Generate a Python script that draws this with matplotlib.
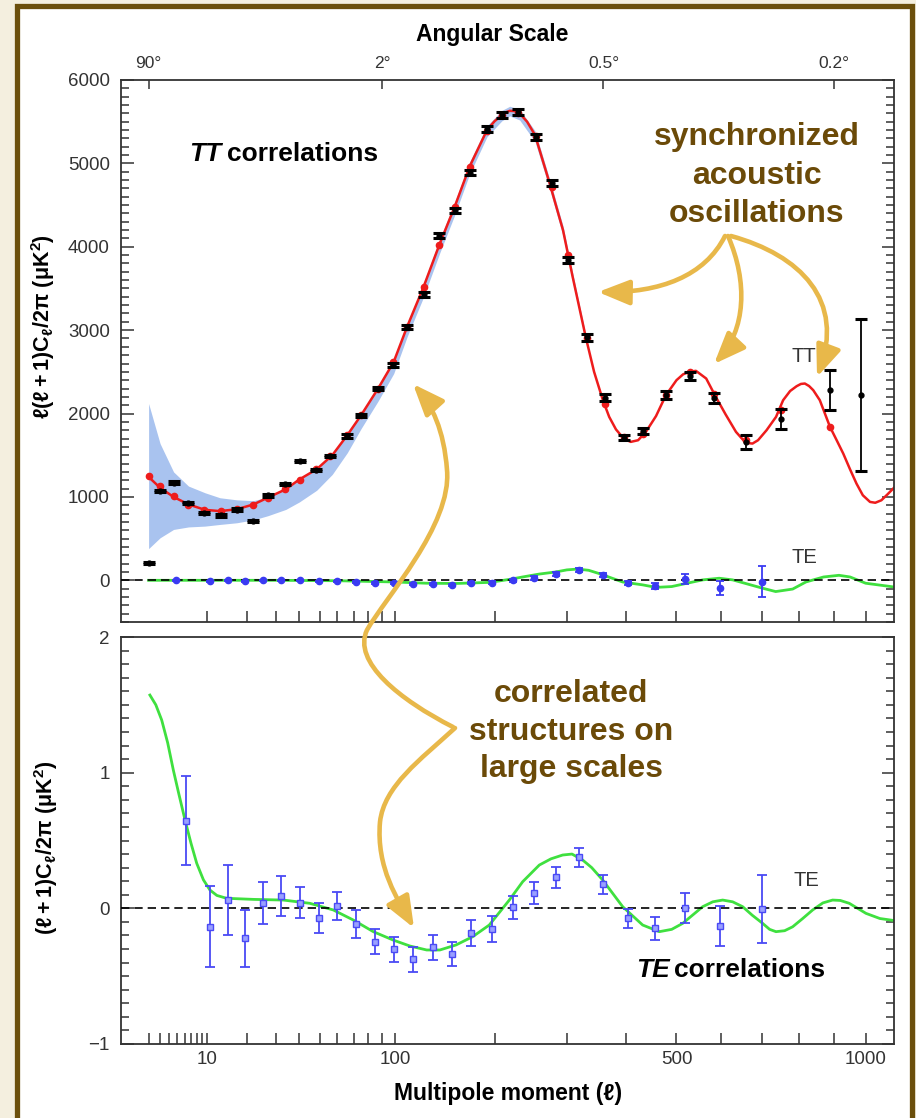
import numpy as np
import matplotlib
matplotlib.use('Agg')
import matplotlib.pyplot as plt
from matplotlib.patches import Rectangle, FancyArrowPatch
from matplotlib.path import Path
from matplotlib.ticker import FixedLocator, MultipleLocator, NullLocator

plt.rcParams['font.family'] = ['Liberation Sans', 'DejaVu Sans']
plt.rcParams['mathtext.fontset'] = 'custom'
plt.rcParams['mathtext.rm'] = 'Liberation Sans:bold'
plt.rcParams['mathtext.it'] = 'Liberation Sans:bold:italic'
plt.rcParams['mathtext.bf'] = 'Liberation Sans:bold'
plt.rcParams['mathtext.default'] = 'rm'

# ---- TT spectrum (upper panel) ----
tt_l = [2, 3, 4.5, 6.6, 9.5, 12.7, 17, 22, 27, 34, 40, 48.5, 57, 66, 75, 87, 99, 110, 124,
        140, 155, 171, 191, 200, 209, 214, 219, 225, 232, 242, 253, 274, 294, 309, 330, 344,
        359, 370, 382, 396, 409, 423, 438, 458, 478, 500, 514, 527, 542, 565, 587, 610, 635,
        655, 666, 676, 690, 712, 737, 756, 775, 793, 805, 816, 828, 840, 859, 873, 889, 909,
        929, 950, 970, 990, 1013, 1030, 1050, 1070, 1092]
tt_model = [1240, 1110, 1000, 910, 845, 830, 852, 910, 992, 1092, 1210, 1332, 1500, 1740,
            1980, 2300, 2620, 3040, 3500, 4040, 4480, 4960, 5400, 5505, 5580, 5612, 5630,
            5628, 5600, 5500, 5340, 4760, 4200, 3640, 2920, 2500, 2160, 1960, 1810, 1700,
            1660, 1680, 1780, 1970, 2220, 2400, 2470, 2500, 2512, 2420, 2200, 1990, 1780,
            1670, 1645, 1640, 1680, 1800, 1960, 2160, 2270, 2328, 2355, 2360, 2330, 2280,
            2160, 2010, 1840, 1680, 1520, 1330, 1160, 1020, 940, 930, 960, 1030, 1110]

band_l = [2, 3, 4.5, 6.6, 9.5, 12.7, 17, 22, 27, 34, 40, 48.5, 57, 66, 75, 87, 99, 110,
          124, 140, 155, 171, 191, 209, 219, 232, 253, 274, 294, 309, 330]
band_hi = [2120, 1640, 1300, 1130, 1050, 990, 965, 955, 1000, 1105, 1225, 1345, 1515, 1755,
           2000, 2325, 2650, 3075, 3545, 4095, 4535, 5015, 5450, 5635, 5685, 5650, 5390,
           4810, 4250, 3690, 2950]
band_lo = [380, 510, 610, 640, 650, 670, 690, 725, 775, 850, 940, 1080, 1270, 1530, 1820,
           2150, 2480, 2920, 3380, 3930, 4380, 4870, 5320, 5510, 5570, 5520, 5260, 4690,
           4130, 3580, 2870]

tt_data_l = [2, 3, 4.5, 6.6, 9.3, 12.9, 17, 22, 27, 33.5, 40.5, 48, 56, 65.6, 75, 87, 98.6,
             110, 125, 139, 155, 171, 190.6, 209, 230, 254, 277, 301, 332, 363, 397, 432,
             478, 529, 582, 659, 750, 889, 984]
tt_data = [208, 1072, 1172, 928, 808, 780, 848, 712, 1020, 1152, 1428, 1320, 1492, 1732,
           1980, 2300, 2580, 3040, 3432, 4132, 4440, 4888, 5408, 5580, 5620, 5312, 4768,
           3840, 2912, 2192, 1712, 1792, 2220, 2452, 2192, 1660, 1940, 2280, 2220]
tt_err = [15, 15, 15, 15, 15, 15, 15, 15, 15, 15, 15, 15, 15, 20, 20, 20, 25, 25, 30, 30,
          30, 30, 35, 35, 35, 35, 35, 35, 40, 40, 30, 35, 45, 50, 60, 85, 120, 240, 910]

tt_bin_l = [2, 3, 4.5, 6.6, 9.3, 12.9, 17, 22, 27, 33.5, 40.5, 48, 56, 65.6, 75, 87, 98.6,
            110, 125, 139, 155, 171, 190.6, 209, 230, 254, 277, 301, 332, 363, 397, 432,
            478, 529, 582, 659, 750, 889]
tt_bin_model = [1248, 1130, 1008, 905, 840, 828, 852, 905, 990, 1090, 1205, 1330, 1490,
                1740, 1980, 2300, 2620, 3040, 3520, 4020, 4480, 4960, 5390, 5580, 5605,
                5330, 4720, 3900, 2900, 2120, 1720, 1760, 2220, 2500, 2230, 1680, 2040, 1840]

# ---- TE in the upper panel (l(l+1)C/2pi) ----
te_top_model_l = [2, 10, 30, 60, 100, 127, 156, 194, 218, 236, 259, 283, 300, 317, 335, 353,
                  394, 432, 458, 490, 527, 557, 595, 627, 660, 702, 736, 782, 819, 870, 916,
                  950, 999, 1092]
te_top_model = [0, 0, 0, -5, -20, -35, -38, -25, 10, 40, 75, 100, 125, 135, 120, 80, -20,
                -55, -85, -75, -30, 5, 25, 5, -40, -95, -135, -105, -20, 40, 60, 40, -35, -80]
te_top_l = [4.8, 10.5, 14.6, 19.4, 25.1, 32, 40.3, 49.7, 59.9, 71.6, 84.7, 99.2, 114.8,
            133.1, 152.2, 172.6, 196.9, 223.6, 251.9, 283.3, 318.6, 358.6, 403.4, 455.8,
            518.1, 597.5, 700.1]
te_top = [0, -12, 0, -12, 0, 0, 0, -12, -12, -20, -32, -32, -48, -40, -60, -32, -32, 0, 28,
          72, 120, 60, -32, -72, 15, -95, -15]
te_top_err = [5, 5, 5, 5, 5, 5, 5, 6, 6, 8, 8, 10, 10, 12, 12, 15, 18, 18, 20, 22, 22, 25,
              25, 35, 60, 85, 188]

# ---- TE (lower panel, (l+1)C/2pi) ----
te_model_l = [2.1, 2.6, 3.16, 3.8, 4.47, 5.2, 6.07, 7, 7.97, 9.2, 10.5, 12, 14.3, 22, 33, 45,
              57.6, 69.8, 83.5, 98.6, 112.5, 127.4, 140, 156.4, 174.5, 193.7, 218.5, 236,
              259, 276, 293.5, 308, 325.1, 340, 358.6, 394.2, 431.7, 464.6, 490, 513.1, 557,
              580, 603.1, 627, 651.4, 675, 701.9, 720, 736.8, 760, 782, 810, 838.3, 868,
              896.9, 920, 947.5, 1000, 1045, 1092]
te_model = [1.572, 1.50, 1.388, 1.22, 1.019, 0.84, 0.651, 0.48, 0.332, 0.21, 0.135, 0.095,
            0.074, 0.066, 0.061, 0.037, -0.012, -0.086, -0.172, -0.234, -0.278, -0.307,
            -0.307, -0.27, -0.209, -0.123, 0.061, 0.196, 0.319, 0.365, 0.393, 0.40, 0.356,
            0.30, 0.209, 0.012, -0.123, -0.172, -0.155, -0.111, 0.012, 0.048, 0.061, 0.048,
            0.012, -0.05, -0.111, -0.155, -0.172, -0.165, -0.136, -0.075, -0.012, 0.04,
            0.061, 0.058, 0.037, -0.037, -0.075, -0.09]
te_l = [6.2, 10.5, 14.6, 19.4, 25.1, 32, 40.3, 49.7, 59.9, 71.6, 84.7, 99.2, 114.8, 133.1,
        152.2, 172.6, 196.9, 223.6, 251.9, 283.3, 318.6, 358.6, 403.4, 455.8, 518.1, 597.5,
        700.1]
te_val = [0.646, -0.136, 0.061, -0.221, 0.037, 0.091, 0.041, -0.074, 0.017, -0.116, -0.246,
          -0.302, -0.376, -0.288, -0.337, -0.180, -0.155, 0.007, 0.115, 0.228, 0.376, 0.179,
          -0.074, -0.147, 0.0, -0.130, -0.007]
te_err = [0.33, 0.30, 0.255, 0.21, 0.155, 0.145, 0.115, 0.11, 0.10, 0.105, 0.09, 0.09, 0.09,
          0.09, 0.09, 0.095, 0.095, 0.085, 0.08, 0.08, 0.07, 0.07, 0.07, 0.085, 0.11, 0.145,
          0.25]

# ---- ticks ----
x_major = [10, 20, 30, 40, 50, 60, 70, 80, 90, 100, 200, 300, 400, 500, 600, 700, 800, 900, 1000]
x_labels = ['10', '', '', '', '', '', '', '', '', '100', '', '', '', '500', '', '', '', '', '1000']
x_minor = [2, 3, 4, 5, 6, 7, 8, 9]
angle_l = [2, 90, 360, 900]
angle_labels = ['90°', '2°', '0.5°', '0.2°']

W, H = 916, 1118
gold = '#e8b84a'
brown = '#6b4a08'
red = '#ee1c1c'
green = '#3fe03f'
blue = '#3a3af2'


def fx(x):
    return x / W


def fy(y):
    return 1 - y / H


def fwd(x):
    return np.sign(x) * np.abs(x) ** 0.4


def inv(x):
    return np.sign(x) * np.abs(x) ** 2.5


fig = plt.figure(figsize=(W / 100, H / 100), dpi=100)
fig.patch.set_facecolor('#f4efdf')
fig.add_artist(Rectangle((fx(16.5), fy(1140)), fx(912) - fx(16.5), fy(5.5) - fy(1140),
                         transform=fig.transFigure, facecolor='white',
                         edgecolor='#6b4f0c', lw=3.8, zorder=-10))

rect1 = [fx(121), fy(622), fx(894) - fx(121), fy(80) - fy(622)]
rect2 = [fx(121), fy(1044), fx(894) - fx(121), fy(637) - fy(1044)]
ax1 = fig.add_axes(rect1)
ax2 = fig.add_axes(rect2)

for ax in (ax1, ax2):
    ax.set_facecolor('none')
    ax.set_xscale('function', functions=(fwd, inv))
    ax.set_xlim(0.504, 1092)
    for s in ax.spines.values():
        s.set_linewidth(1.3)
        s.set_color('#333333')
    ax.tick_params(which='both', direction='in', right=True, top=False, width=1.1,
                   colors='#333333', labelsize=13.5)
    ax.tick_params(axis='y', which='major', length=9, pad=8)
    ax.tick_params(axis='y', which='minor', length=5.5)
    ax.tick_params(axis='x', which='both', length=8, pad=5)

# upper panel
ax1.fill_between(band_l, band_lo, band_hi, color='#a9c3ef', lw=0, zorder=1)
ax1.plot(tt_l, tt_model, color=red, lw=1.8, zorder=2)
ax1.plot(tt_bin_l, tt_bin_model, 'o', color=red, ms=4.5, zorder=3)
ax1.plot(te_top_model_l, te_top_model, color=green, lw=2, zorder=2)
ax1.axhline(0, color='k', ls=(0, (5, 3)), lw=1.2, zorder=3)
ax1.errorbar(tt_data_l, tt_data, yerr=tt_err, fmt='o', color='k', ms=3.5, elinewidth=1.3,
             capsize=4, capthick=2.2, zorder=4)
ax1.errorbar(te_top_l, te_top, yerr=te_top_err, fmt='o', color=blue, ms=4.5, elinewidth=1.3,
             capsize=3, capthick=1.3, zorder=4)
ax1.set_ylim(-500, 6000)
ax1.yaxis.set_major_locator(MultipleLocator(1000))
ax1.yaxis.set_minor_locator(MultipleLocator(100))
ax1.xaxis.set_major_locator(FixedLocator(x_major))
ax1.xaxis.set_minor_locator(NullLocator())
ax1.set_xticklabels([])

# angular scale along the top
axt = fig.add_axes(rect1, facecolor='none')
axt.set_xscale('function', functions=(fwd, inv))
axt.set_xlim(0.504, 1092)
axt.yaxis.set_visible(False)
for s in axt.spines.values():
    s.set_visible(False)
axt.xaxis.tick_top()
axt.set_xticks(angle_l, labels=angle_labels)
axt.xaxis.set_minor_locator(NullLocator())
axt.tick_params(axis='x', direction='in', length=6.5, width=1.1, pad=6.5,
                colors='#333333', labelsize=12.5)

# lower panel
ax2.plot(te_model_l, te_model, color=green, lw=2, zorder=2)
ax2.axhline(0, color='k', ls=(0, (5, 3)), lw=1.2, zorder=3)
ax2.errorbar(te_l, te_val, yerr=te_err, fmt='s', color='#4a4af5', mfc='#9aa0ff', ms=4,
             elinewidth=1.3, capsize=3.5, capthick=1.3, zorder=4)
ax2.set_ylim(-1, 2)
ax2.yaxis.set_major_locator(MultipleLocator(1))
ax2.yaxis.set_minor_locator(MultipleLocator(0.1))
ax2.set_xticks(x_major, labels=x_labels)
ax2.set_xticks(x_minor, minor=True)

# titles and labels
fig.text(fx(492), fy(41), 'Angular Scale', ha='center', va='baseline', fontsize=16.5,
         fontweight='bold')
fig.text(fx(508), fy(1100), 'Multipole moment (ℓ)', ha='center', va='baseline',
         fontsize=16.5, fontweight='bold')
fig.text(fx(43), fy(327), r'$\ell(\ell+1)C_\ell/2\pi\ (\mu K^2)$', rotation=90,
         ha='center', va='center', fontsize=15.5)
fig.text(fx(46), fy(848), r'$(\ell+1)C_\ell/2\pi\ (\mu K^2)$', rotation=90,
         ha='center', va='center', fontsize=15.5)

fig.text(fx(189), fy(161), 'TT', fontsize=19, fontweight='bold', style='italic', va='baseline')
fig.text(fx(227), fy(161), 'correlations', fontsize=19, fontweight='bold', va='baseline')
fig.text(fx(636), fy(977), 'TE', fontsize=19, fontweight='bold', style='italic', va='baseline')
fig.text(fx(674), fy(977), 'correlations', fontsize=19, fontweight='bold', va='baseline')

fig.text(fx(791), fy(362), 'TT', fontsize=14.5, color='#333333', va='baseline')
fig.text(fx(791), fy(563), 'TE', fontsize=14.5, color='#333333', va='baseline')
fig.text(fx(793), fy(886), 'TE', fontsize=14.5, color='#333333', va='baseline')

for txt, yb in [('synchronized', 145), ('acoustic', 183.5), ('oscillations', 222)]:
    fig.text(fx(757), fy(yb), txt, ha='center', va='baseline', fontsize=23,
             fontweight='bold', color=brown)
for txt, yb in [('correlated', 702), ('structures on', 739.5), ('large scales', 777)]:
    fig.text(fx(571), fy(yb), txt, ha='center', va='baseline', fontsize=23,
             fontweight='bold', color=brown)


def golden_arrow(pts):
    codes = [Path.MOVETO] + [Path.CURVE4] * (len(pts) - 1)
    path = Path([(fx(x), fy(y)) for x, y in pts], codes)
    fig.add_artist(FancyArrowPatch(path=path, arrowstyle='-|>,head_length=0.95,head_width=0.38',
                                   mutation_scale=20, lw=3.3, color=gold,
                                   transform=fig.transFigure, zorder=6))


golden_arrow([(725, 236), (705, 276), (660, 293), (598, 292)])
golden_arrow([(728, 236), (748, 282), (746, 330), (714, 364)])
golden_arrow([(731, 236), (800, 255), (846, 300), (817, 377)])
golden_arrow([(453, 727), (400, 700), (352, 662), (367, 630),
              (385, 598), (452, 525), (447, 470),
              (444, 430), (432, 405), (413, 384)])
golden_arrow([(455, 728), (420, 760), (384, 786), (380, 822),
              (376, 868), (398, 900), (414, 928)])

fig.savefig('out.png', dpi=100, facecolor=fig.get_facecolor())
